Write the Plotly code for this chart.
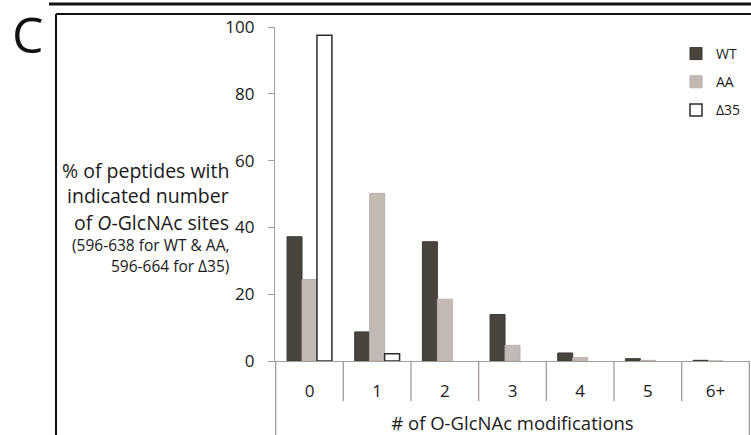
import plotly.graph_objects as go

categories = ["0", "1", "2", "3", "4", "5", "6+"]
wt = [37.2, 8.7, 35.7, 13.9, 2.4, 0.7, 0.2]
aa = [24.4, 50.2, 18.5, 4.7, 1.0, 0.2, 0.0]
d35 = [97.5, 2.2, 0.0, 0.0, 0.0, 0.0, 0.0]
y_ticks = [0, 20, 40, 60, 80, 100]

W, H = 751, 435
L, R, T, B = 275, 1, 27, 74
PW, PH = W - L - R, H - T - B
FONT = "Open Sans"


def px(xp):
    return (xp - L) / PW


def py(yp):
    return (H - B - yp) / PH


AXC = "#a39d99"

fig = go.Figure()
fig.add_trace(go.Bar(x=categories, y=wt, name="WT", legendgroup="a",
                     marker=dict(color="#4a443f", line=dict(color="#3a3531", width=1))))
fig.add_trace(go.Bar(x=categories, y=aa, name="AA", legendgroup="b",
                     marker=dict(color="#c3bab6", line=dict(color="#b9b0ac", width=1))))
fig.add_trace(go.Bar(x=categories, y=d35, name="Δ35", legendgroup="c",
                     marker=dict(color="#ffffff",
                                 line=dict(color="#2b2b2b",
                                           width=[1.5 if v > 0 else 0 for v in d35]))))

shapes = []
# top thick rule
shapes.append(dict(type="line", xref="paper", yref="paper", x0=px(49), x1=px(751),
                   y0=py(4), y1=py(4), line=dict(color="#111", width=3)))
# frame
shapes.append(dict(type="line", xref="paper", yref="paper", x0=px(56), x1=px(751),
                   y0=py(14), y1=py(14), line=dict(color="#111", width=2)))
shapes.append(dict(type="line", xref="paper", yref="paper", x0=px(56), x1=px(56),
                   y0=py(14), y1=py(436), line=dict(color="#111", width=2)))
# category separators below axis
for i in range(len(categories) + 1):
    b = i - 0.5
    end = py(436) if i in (0, len(categories)) else py(401)
    shapes.append(dict(type="line", xref="x", yref="paper", x0=b, x1=b,
                       y0=0, y1=end, line=dict(color=AXC, width=1.3)))

ann = []
ann.append(dict(text="C", x=px(28), y=py(34), xref="paper", yref="paper",
                showarrow=False, font=dict(family=FONT, size=50, color="#111"),
                xanchor="center", yanchor="middle"))
ylines = [
    ("% of peptides with", 19.5, 170),
    ("indicated number", 19.5, 196),
    ("of <i>O</i>-GlcNAc sites", 19.5, 222),
    ("(596-638 for WT &amp; AA,", 15.5, 245),
    ("596-664 for Δ35)", 15.5, 266),
]
for t, s, yy in ylines:
    ann.append(dict(text=t, x=px(231), y=py(yy), xref="paper", yref="paper",
                    showarrow=False, font=dict(family=FONT, size=s, color="#1a1a1a"),
                    xanchor="right", yanchor="middle"))

fig.update_layout(
    width=W, height=H,
    margin=dict(l=L, r=R, t=T, b=B, autoexpand=False),
    paper_bgcolor="white", plot_bgcolor="white",
    barmode="group", bargap=0.337, bargroupgap=0,
    font=dict(family=FONT, color="#1a1a1a"),
    showlegend=True,
    legend=dict(x=px(676), y=py(38), xanchor="left", yanchor="top",
                font=dict(family=FONT, size=14, color="#1a1a1a"),
                tracegroupgap=7, itemwidth=30, bgcolor="rgba(0,0,0,0)"),
    shapes=shapes,
    annotations=ann,
)
fig.update_xaxes(type="category", showline=True, linecolor=AXC, linewidth=1.3,
                 ticks="", tickfont=dict(size=17, color="#1a1a1a"),
                 ticklabelstandoff=14, showgrid=False, zeroline=False,
                 title=dict(text="# of O-GlcNAc modifications",
                            font=dict(size=18.5, color="#1a1a1a"), standoff=24))
fig.update_yaxes(range=[0, 100], tickvals=y_ticks, showline=True, linecolor=AXC,
                 linewidth=1.3, ticks="outside", ticklen=6, tickcolor=AXC,
                 tickwidth=1.3, tickfont=dict(size=17, color="#1a1a1a"),
                 ticklabelstandoff=10, showgrid=False, zeroline=False)

fig.write_html("out.html", config={"displayModeBar": False},
               post_script="document.body.style.margin='0';document.body.style.overflow='hidden';")
